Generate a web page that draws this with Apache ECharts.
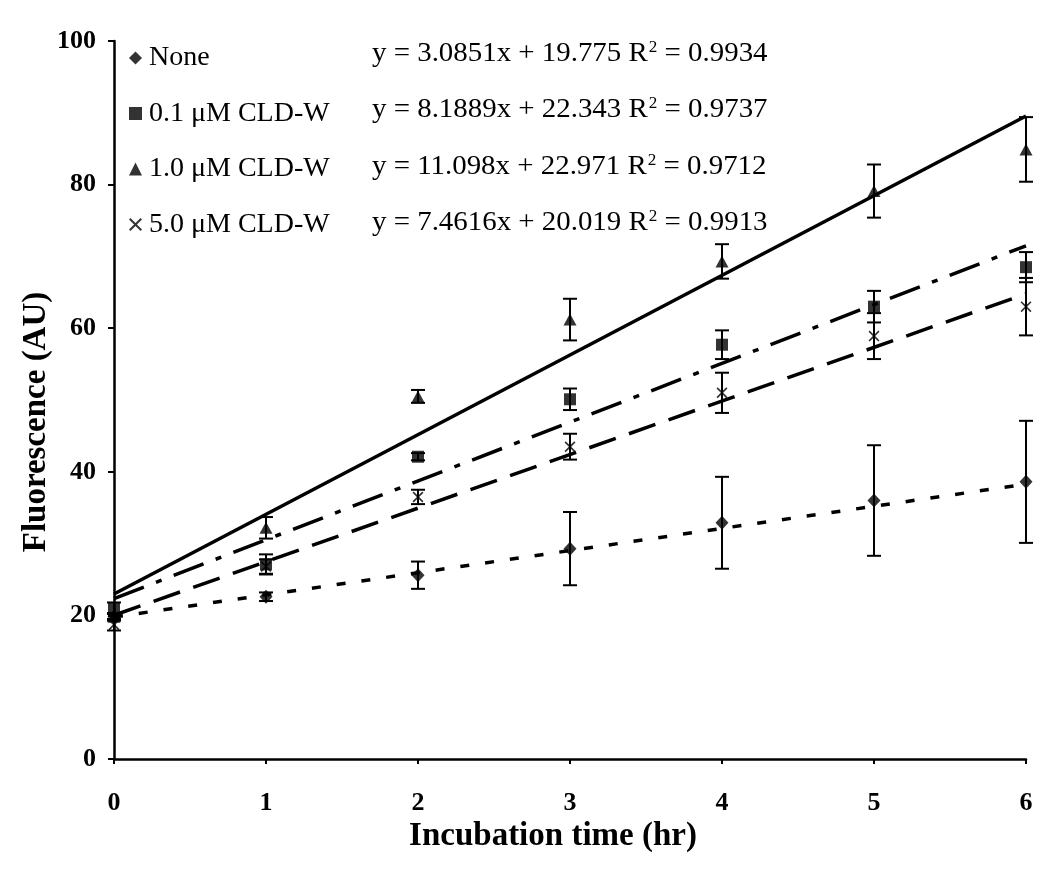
<!DOCTYPE html>
<html>
<head>
<meta charset="utf-8">
<script src="https://cdn.jsdelivr.net/npm/echarts@6/dist/echarts.min.js"></script>
<style>html,body{margin:0;padding:0;background:#fff;}#c{width:1050px;height:879px;}</style>
</head>
<body>
<div id="c"></div>
<script>
// ---- data ----
const hours = [0, 1, 2, 3, 4, 5, 6];
const seriesNames = ['None', '0.1 \u03bcM CLD-W', '1.0 \u03bcM CLD-W', '\u00d75.0 \u03bcM CLD-W'];
const noneVals = [19.8, 22.6, 25.6, 29.3, 32.9, 36.0, 38.6];
const noneSD   = [0.5, 0.6, 1.9, 5.1, 6.4, 7.7, 8.5];
const w01Vals  = [21.0, 27.1, 42.1, 50.1, 57.7, 63.0, 68.5];
const w01SD    = [0.8, 1.4, 0.5, 1.5, 2.0, 2.2, 2.1];
const w10Vals  = [19.8, 32.2, 50.5, 61.2, 69.3, 79.1, 84.9];
const w10SD    = [0.5, 1.5, 0.9, 2.9, 2.4, 3.7, 4.5];
const w50Vals  = [18.7, 26.8, 36.5, 43.5, 51.0, 58.9, 63.0];
const w50SD    = [0.8, 1.0, 1.0, 1.8, 2.8, 3.2, 4.0];
// linear fits as printed on the chart
const fitSlopes = [3.0851, 8.1889, 11.098, 7.4616];
const fitIntercepts = [19.775, 22.343, 22.971, 20.019];
const fitR2 = ['0.9934', '0.9737', '0.9712', '0.9913'];
const xTicks = [0, 1, 2, 3, 4, 5, 6];
const yTicks = [0, 20, 40, 60, 80, 100];
const xTitle = 'Incubation time (hr)';
const yTitle = 'Fluorescence (AU)';

// ---- chart ----
const vals = [noneVals, w01Vals, w10Vals, w50Vals];
const sds = [noneSD, w01SD, w10SD, w50SD];
const xPath = 'path://M0,1.1L1.1,0L5,3.9L8.9,0L10,1.1L6.1,5L10,8.9L8.9,10L5,6.1L1.1,10L0,8.9L3.9,5Z';
const symbols = ['diamond', 'rect', 'triangle', xPath];
const symSizes = [[13, 14], 12, [13, 12], 11];
const dashes = [[9, 16], [32, 13, 6, 13], 'solid', [28, 14]];
const serif = 'Liberation Serif';

const series = [];
for (let i = 0; i < 4; i++) {
  const x0 = hours[0], x1 = hours[hours.length - 1];
  series.push({
    name: 'fit' + i, type: 'line', silent: true, symbol: 'none', z: 2,
    data: [[x0, fitIntercepts[i] + fitSlopes[i] * x0], [x1, fitIntercepts[i] + fitSlopes[i] * x1]],
    lineStyle: { color: '#000', width: 3.5, type: dashes[i], cap: 'butt' }
  });
  series.push({
    name: 'err' + i, type: 'custom', silent: true, z: 3,
    data: hours.map((h, k) => [h, vals[i][k] - sds[i][k], vals[i][k] + sds[i][k]]),
    renderItem: function (params, api) {
      const lo = api.coord([api.value(0), api.value(1)]);
      const hi = api.coord([api.value(0), api.value(2)]);
      const cw = 7;
      const st = { stroke: '#000', lineWidth: 2, fill: null };
      return { type: 'group', children: [
        { type: 'line', shape: { x1: lo[0], y1: lo[1], x2: hi[0], y2: hi[1] }, style: st },
        { type: 'line', shape: { x1: lo[0] - cw, y1: lo[1], x2: lo[0] + cw, y2: lo[1] }, style: st },
        { type: 'line', shape: { x1: hi[0] - cw, y1: hi[1], x2: hi[0] + cw, y2: hi[1] }, style: st }
      ]};
    }
  });
  series.push({
    name: seriesNames[i], type: 'scatter', z: 4,
    symbol: symbols[i], symbolSize: symSizes[i],
    itemStyle: { color: '#000' },
    data: hours.map((h, k) => [h, vals[i][k]])
  });
}

const graphics = [];
const eqRows = [54, 110, 167, 223];
for (let i = 0; i < 4; i++) {
  graphics.push({
    type: 'text', x: 372, y: eqRows[i], z: 10, scaleX: 1.07,
    style: {
      text: '{n|y = ' + fitSlopes[i].toString() + 'x + ' + fitIntercepts[i].toFixed(3) + ' R}{s|2}{n| = ' + fitR2[i] + '}',
      verticalAlign: 'middle',
      rich: {
        n: { fontFamily: serif, fontSize: 27, color: '#000', lineHeight: 28 },
        s: { fontFamily: serif, fontSize: 16, color: '#000', verticalAlign: 'top', lineHeight: 28, padding: [0, 0, 11, 1] }
      }
    }
  });
}
graphics.push({
  type: 'text', x: 553, y: 836, z: 10,
  style: { text: xTitle, fontFamily: serif, fontWeight: 'bold', fontSize: 33, fill: '#000', align: 'center', verticalAlign: 'middle' }
});
graphics.push({
  type: 'text', x: 36, y: 422, z: 10, rotation: Math.PI / 2,
  style: { text: yTitle, fontFamily: serif, fontWeight: 'bold', fontSize: 33, fill: '#000', align: 'center', verticalAlign: 'middle' }
});

const chart = echarts.init(document.getElementById('c'), null, { renderer: 'canvas' });
chart.setOption({
  animation: false,
  backgroundColor: '#fff',
  grid: { left: 114, right: 24, top: 41, bottom: 120, containLabel: false },
  legend: {
    orient: 'vertical', left: 124, top: 39, itemGap: 27.5,
    itemWidth: 13, itemHeight: 13,
    data: seriesNames.map((n) => ({ name: n })),
    formatter: (n) => n.replace('\u00d7', ''),
    textStyle: { fontFamily: serif, fontSize: 28, color: '#000', lineHeight: 27, padding: [0, 0, 0, 2] },
    selectedMode: false
  },
  xAxis: {
    type: 'value', min: xTicks[0], max: xTicks[xTicks.length - 1], interval: 1,
    axisLine: { lineStyle: { color: '#000', width: 2.5 } },
    axisTick: { show: true, length: 5, lineStyle: { color: '#000', width: 2 } },
    axisLabel: { margin: 31, fontFamily: serif, fontWeight: 'bold', fontSize: 26, color: '#000' },
    splitLine: { show: false }
  },
  yAxis: {
    type: 'value', min: yTicks[0], max: yTicks[yTicks.length - 1], interval: 20,
    axisLine: { show: true, lineStyle: { color: '#000', width: 2.5 } },
    axisTick: { show: true, length: 6, lineStyle: { color: '#000', width: 2 } },
    axisLabel: { margin: 18, fontFamily: serif, fontWeight: 'bold', fontSize: 26, color: '#000' },
    splitLine: { show: false }
  },
  graphic: graphics,
  series: series
});
</script>
</body>
</html>
